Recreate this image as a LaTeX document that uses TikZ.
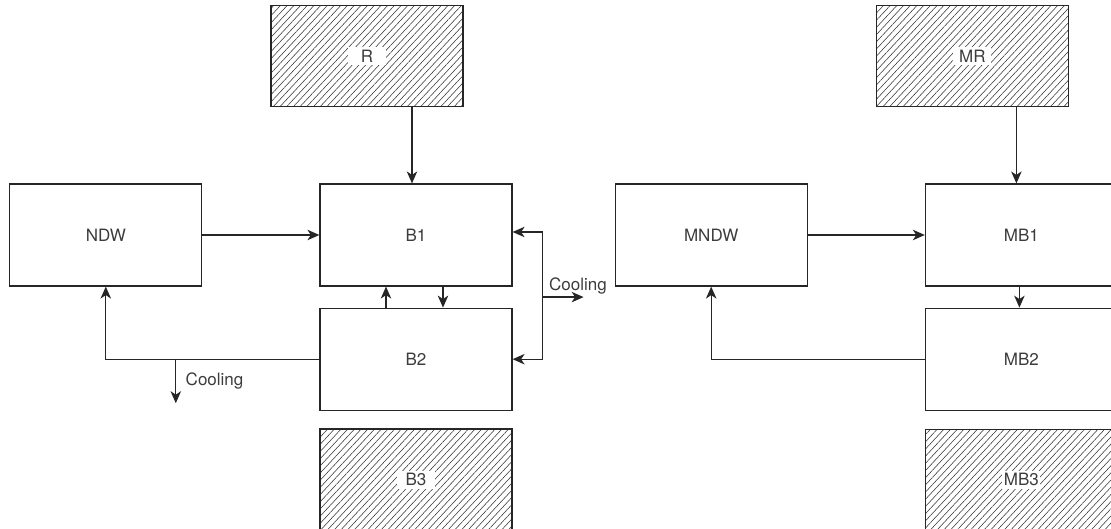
\documentclass[tikz,border=0pt]{standalone}
\usepackage{fontspec}
\setmainfont{TeX Gyre Heros}
\usetikzlibrary{arrows.meta,positioning,patterns.meta,calc}

\definecolor{linegray}{HTML}{262626}
\definecolor{textgray}{HTML}{3C3C3C}
\definecolor{hatchgray}{HTML}{333333}

\begin{document}
\begin{tikzpicture}[
	node distance=21pt,
	>={Stealth[length=12pt,width=10.5pt,inset=3.5pt]},
	box/.style={draw=linegray, line width=1.2pt, minimum width=192pt, minimum height=102pt, inner sep=0pt, font=\fontsize{17}{20}\selectfont, text=textgray},
	hatched/.style={box, minimum height=101pt, pattern={Lines[angle=47,distance=4.9pt,line width=0.55pt]}, pattern color=hatchgray},
	tag/.style={fill=white, minimum width=38pt, minimum height=18pt, inner sep=1pt, font=\fontsize{17}{20}\selectfont, text=textgray},
	flow/.style={->, draw=linegray, line width=1.2pt},
	lbl/.style={font=\fontsize{17}{20}\selectfont, text=textgray}
]
\useasboundingbox (-416pt,-294pt) rectangle (695pt,235pt);

% left plant
\node[box] (B1) {B1};
\node[box, below=of B1] (B2) {B2};
\node[hatched, below=18pt of B2] (B3) {};
\node[hatched, above=76pt of B1, xshift=-49pt] (R) {};
\node[box, left=117pt of B1] (NDW) {NDW};
\node[tag] (B3tag) at (B3) {B3};
\node[tag] (Rtag) at (R) {R};

% right plant
\node[box, right=102pt of B1] (MNDW) {MNDW};
\node[box, right=117pt of MNDW] (MB1) {MB1};
\node[box, below=of MB1] (MB2) {MB2};
\node[hatched, below=18pt of MB2] (MB3) {};
\node[hatched, above=76pt of MB1, xshift=-49pt] (MR) {};
\node[tag] (MB3tag) at (MB3) {MB3};
\node[tag] (MRtag) at (MR) {MR};

\coordinate (split) at ($(B1.south east)!0.5!(B2.north east) + (30pt,0)$);

\draw[flow] ([xshift=-4pt]B1.north |- R.south) -- ([xshift=-4pt]B1.north);
\draw[flow] (NDW) -- (B1);
\draw[flow] (B2.west) -| (NDW.south);
\draw[flow] ([xshift=70pt]NDW.south |- B2.west) -- ++(0,-44pt) node[lbl, midway, right=6pt] (coolA) {Cooling};
\draw[flow] ([xshift=-30pt]B2.north) -- ([xshift=-30pt]B1.south);
\draw[flow] ([xshift=27pt]B1.south) -- ([xshift=27pt]B2.north);
\draw[flow] (split) |- ([yshift=3pt]B1.east);
\draw[flow] (split) |- (B2.east);
\draw[flow] (split) node[lbl, anchor=south west, inner sep=2pt, xshift=4pt] (coolB) {Cooling} -- ++(41pt,0);

\draw[flow] ([xshift=-5pt]MB1.north |- MR.south) -- ([xshift=-5pt]MB1.north);
\draw[flow] (MNDW) -- (MB1);
\draw[flow] (MB2.west) -| (MNDW.south);
\draw[flow] ([xshift=-2pt]MB1.south) -- ([xshift=-2pt]MB2.north);
\end{tikzpicture}
\end{document}
